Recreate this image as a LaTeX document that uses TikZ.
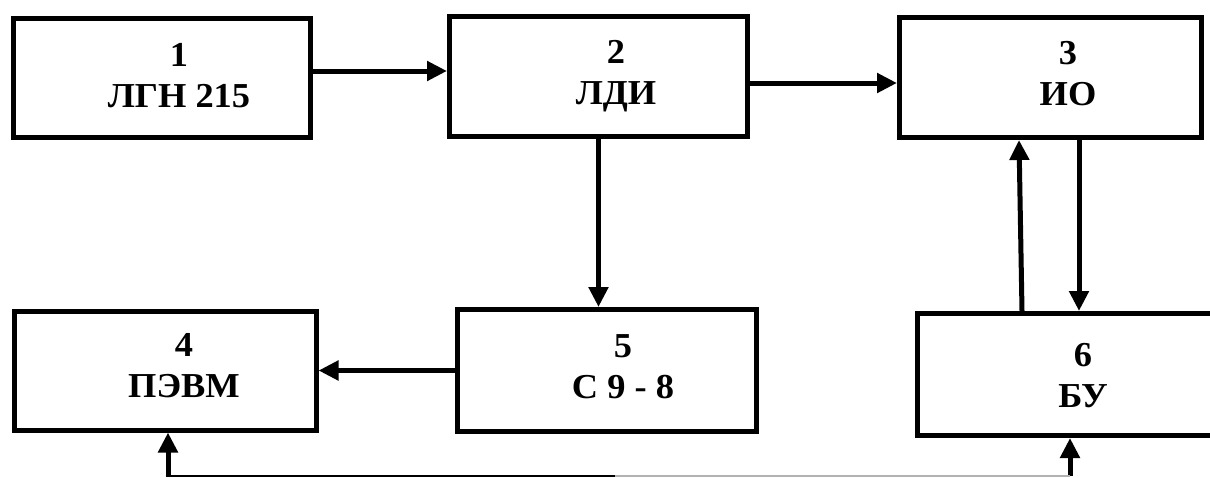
\documentclass[tikz,border=0pt]{standalone}
\usepackage{fontspec}
\setmainfont{Liberation Serif}[FakeStretch=1.04]
\usetikzlibrary{arrows.meta,calc}
\begin{document}
\begin{tikzpicture}[x=1pt,y=-1pt,
  box/.style={draw,line width=5pt,rectangle,inner sep=0pt},
  txt/.style={align=center,inner sep=0pt,font=\fontsize{35}{41}\selectfont\bfseries},
  conn/.style={line width=5pt,-{Triangle[length=20pt,width=19pt]}},
  bus/.style={line width=2pt}]
\useasboundingbox (0,0) rectangle (1210,477);
\clip (0,0) rectangle (1210,477);
\fill[white] (0,0) rectangle (1210,477);
% boxes
\node[box,minimum width=297pt,minimum height=119pt] (b1) at (162,78) {};
\node[box,minimum width=298pt,minimum height=120pt] (b2) at (598.5,76.5) {};
\node[box,minimum width=302pt,minimum height=120pt] (b3) at (1050.5,77.5) {};
\node[box,minimum width=302pt,minimum height=119pt] (b4) at (165,370.5) {};
\node[box,minimum width=299pt,minimum height=122pt] (b5) at (607,370.5) {};
\node[box,minimum width=298pt,minimum height=122pt] (b6) at (1066,374.5) {};
% labels
\node[txt] (t1) at ($(b1.center)+(17,-2)$) {1\\ЛГН 215};
\node[txt] (t2) at ($(b2.center)+(17.5,0)$) {2\\ЛДИ};
\node[txt] (t3) at ($(b3.center)+(17.5,-4)$) {3\\ИО};
\node[txt] (t4) at ($(b4.center)+(19,-5)$) {4\\ПЭВМ};
\node[txt] (t5) at ($(b5.center)+(16,-4)$) {5\\С 9 - 8};
\node[txt] (t6) at ($(b6.center)+(17,1.5)$) {6\\БУ};
% connectors
\draw[conn] ([yshift=7pt]b1.east) -- ([yshift=7pt]b1.east -| b2.west);
\draw[conn] ([yshift=-6.5pt]b2.east) -- ([yshift=-6.5pt]b2.east -| b3.west);
\draw[conn] (b2.south) -- (b2.south |- b5.north);
\draw[conn] (b5.west) -- (b5.west -| b4.east);
\draw[conn] ([xshift=28.5pt]b3.south) -- ([xshift=28.5pt]b3.south |- b6.north);
\draw[conn] ([xshift=-44pt]b6.north) -- ([xshift=-31.5pt]b3.south);
% bus
\coordinate (c1) at (168,475.5);
\coordinate (c2) at (1070,475.5);
\coordinate (cm) at (615,475.5);
\draw[conn] (c1) -- (c1 |- b4.south);
\draw[conn] (c2) -- (c2 |- b6.south);
\draw[bus] ([xshift=-2.5pt]c1) -- (cm);
\draw[bus,gray!60] (cm) -- (c2);
\end{tikzpicture}
\end{document}
